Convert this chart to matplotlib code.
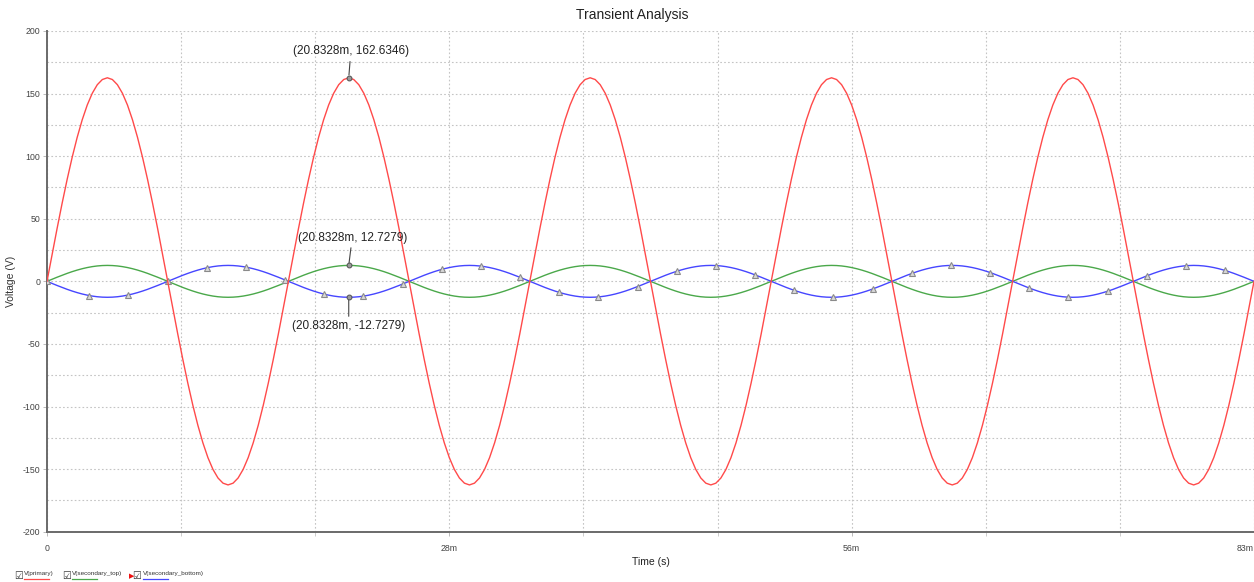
import numpy as np
import matplotlib
matplotlib.use("Agg")
import matplotlib.pyplot as plt
from matplotlib.lines import Line2D

plt.rcParams['font.family'] = ['Liberation Sans', 'DejaVu Sans']
plt.rcParams['axes.unicode_minus'] = False

# one 60 Hz cycle, 48 samples per cycle (16.667 ms)
cycle_ms = 16.6667
n_cycles = 5

primary_cycle = [
    0, 21.23, 42.09, 62.24, 81.32, 99.01, 115.00, 129.03, 140.85, 150.25, 157.09, 161.23,
    162.63, 161.23, 157.09, 150.25, 140.85, 129.03, 115.00, 99.01, 81.32, 62.24, 42.09, 21.23,
    0, -21.23, -42.09, -62.24, -81.32, -99.01, -115.00, -129.03, -140.85, -150.25, -157.09, -161.23,
    -162.63, -161.23, -157.09, -150.25, -140.85, -129.03, -115.00, -99.01, -81.32, -62.24, -42.09, -21.23,
]
sec_top_cycle = [
    0, 1.66, 3.29, 4.87, 6.36, 7.75, 9.00, 10.10, 11.02, 11.76, 12.30, 12.62,
    12.73, 12.62, 12.30, 11.76, 11.02, 10.10, 9.00, 7.75, 6.36, 4.87, 3.29, 1.66,
    0, -1.66, -3.29, -4.87, -6.36, -7.75, -9.00, -10.10, -11.02, -11.76, -12.30, -12.62,
    -12.73, -12.62, -12.30, -11.76, -11.02, -10.10, -9.00, -7.75, -6.36, -4.87, -3.29, -1.66,
]
sec_bot_cycle = [
    0, -1.66, -3.29, -4.87, -6.36, -7.75, -9.00, -10.10, -11.02, -11.76, -12.30, -12.62,
    -12.73, -12.62, -12.30, -11.76, -11.02, -10.10, -9.00, -7.75, -6.36, -4.87, -3.29, -1.66,
    0, 1.66, 3.29, 4.87, 6.36, 7.75, 9.00, 10.10, 11.02, 11.76, 12.30, 12.62,
    12.73, 12.62, 12.30, 11.76, 11.02, 10.10, 9.00, 7.75, 6.36, 4.87, 3.29, 1.66,
]

# data-point markers shown on the selected trace (V(secondary_bottom))
mark_t_ms = [0, 2.92, 5.62, 8.33, 11.03, 13.73, 16.44, 19.14, 21.85, 24.55, 27.25,
             29.96, 32.66, 35.37, 38.07, 40.77, 43.48, 46.18, 48.89, 51.59, 54.29,
             57.00, 59.70, 62.41, 65.11, 67.81, 70.52, 73.22, 75.93, 78.63, 81.33]
mark_v = [0, -11.34, -10.86, -0.03, 10.83, 11.38, 1.09, -10.23, -11.81, -2.14, 9.56,
          12.16, 3.18, -8.83, -12.43, -4.19, 8.04, 12.62, 5.18, -7.19, -12.71,
          -6.13, 6.29, 12.72, 7.03, -5.35, -12.64, -7.89, 4.37, 12.47, 8.69]

# cursor readouts
cursor_t_ms = 20.8328
cursor_vals = [162.6346, 12.7279, -12.7279]
cursor_labels = ['(20.8328m, 162.6346)', '(20.8328m, 12.7279)', '(20.8328m, -12.7279)']

t_end_ms = 83.3333
x_tick_labels = ['0', '28m', '56m', '83m']
trace_names = ['V(primary)', 'V(secondary_top)', 'V(secondary_bottom)']

# full traces: the cycle repeated over the run, closing on the final sample
n = len(primary_cycle)
t_ms = np.arange(n * n_cycles + 1) * cycle_ms / n
v_primary = np.append(np.tile(primary_cycle, n_cycles), primary_cycle[0])
v_sec_top = np.append(np.tile(sec_top_cycle, n_cycles), sec_top_cycle[0])
v_sec_bot = np.append(np.tile(sec_bot_cycle, n_cycles), sec_bot_cycle[0])

c_red = '#ff4a4a'
c_green = '#4aa84a'
c_blue = '#4646ff'

fig = plt.figure(figsize=(12.54, 5.82), dpi=100)
ax = fig.add_axes([47 / 1254, 1 - 531.7 / 582, 1 - 47 / 1254, (531.7 - 31) / 582])

ax.plot(t_ms, v_sec_top, color=c_green, lw=1.0, zorder=3)
ax.plot(t_ms, v_sec_bot, color=c_blue, lw=1.0, zorder=3)
ax.plot(mark_t_ms, mark_v, ls='none', marker='^', ms=4, mfc='#d8d8d8', mec='#8a8a8a',
        mew=0.8, zorder=4)
ax.plot(t_ms, v_primary, color=c_red, lw=1.0, zorder=5)

ax.set_xlim(0, t_end_ms)
ax.set_ylim(-200, 200)

# grid: 9 time divisions, 25 V steps
ax.set_xticks(np.linspace(0, t_end_ms, 4))
ax.set_xticklabels(x_tick_labels)
ax.set_xticks(np.linspace(0, t_end_ms, 10), minor=True)
ax.set_yticks(np.arange(-200, 201, 50))
ax.set_yticks(np.arange(-200, 201, 25), minor=True)
ax.grid(True, which='both', color='#c4c4c4', ls=(0, (1.5, 2)), lw=0.8)
ax.set_axisbelow(True)

ax.tick_params(axis='both', which='major', labelsize=6.3, labelcolor='#444444',
               color='#b0b0b0', length=3, width=0.6)
ax.tick_params(axis='x', which='minor', length=3, width=0.6, color='#c4c4c4')
ax.tick_params(axis='y', which='minor', length=0)
ax.tick_params(axis='y', which='major', length=3, pad=2)
ax.tick_params(axis='x', which='major', pad=6)
ax.get_xticklabels()[-1].set_ha('right')

for s in ['top', 'right']:
    ax.spines[s].set_visible(False)
for s in ['left', 'bottom']:
    ax.spines[s].set_color('#6a6a6a')
    ax.spines[s].set_linewidth(1.4)

ax.set_xlabel('Time (s)', fontsize=7.5, color='#222222', labelpad=3)
ax.set_ylabel('Voltage (V)', fontsize=7.5, color='#333333')
ax.yaxis.set_label_coords((16 - 47) / 1207, 0.5)
fig.text(632 / 1254, 1 - 15 / 582, 'Transient Analysis', ha='center', va='center',
         fontsize=10, color='#222222')

# cursor markers and readouts
offsets = [(1.5, 19), (2.5, 20), (0, -21)]
for v, lab, off in zip(cursor_vals, cursor_labels, offsets):
    ax.plot([cursor_t_ms], [v], marker='o', ms=3.5, mfc='#9a9a9a', mec='#505050',
            mew=0.7, zorder=6)
    ax.annotate(lab, xy=(cursor_t_ms, v), xytext=off, textcoords='offset points',
                ha='center', va='center', fontsize=8.5, color='#222222',
                arrowprops=dict(arrowstyle='-', color='#444444', lw=0.8,
                                shrinkA=1, shrinkB=2), zorder=7)

# trace legend at bottom-left
legend_x = [24, 72, 143]
box_x = [19, 67, 137]
for name, col, lx, bx in zip(trace_names, [c_red, c_green, c_blue], legend_x, box_x):
    fig.text(bx / 1254, 1 - 576 / 582, '\u2611', fontsize=7, ha='center', va='center',
             color='#333333', family=['DejaVu Sans'])
    fig.text(lx / 1254, 1 - 573 / 582, name, fontsize=4.6, ha='left', va='center',
             color='#333333')
    fig.add_artist(Line2D([lx / 1254, (lx + 25) / 1254], [1 - 579 / 582, 1 - 579 / 582],
                          color=col, lw=0.9))
fig.text(132 / 1254, 1 - 576 / 582, '\u25b6', fontsize=5, ha='center', va='center',
         color='#ee1111', family=['DejaVu Sans'])

fig.savefig('out.png', dpi=100)
